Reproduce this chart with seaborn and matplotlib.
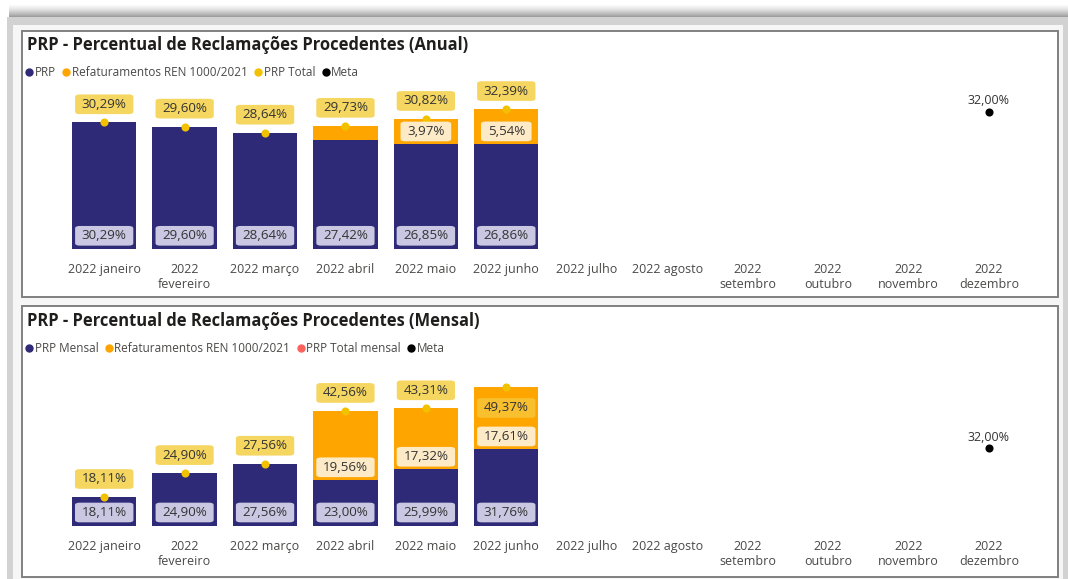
import numpy as np
import pandas as pd
import matplotlib
matplotlib.use("Agg")
import matplotlib.pyplot as plt
import seaborn as sns
from matplotlib.patches import Rectangle
from matplotlib.lines import Line2D

# ---------------- data ----------------
meses = ["2022 janeiro", "2022\nfevereiro", "2022 março", "2022 abril", "2022 maio",
         "2022 junho", "2022 julho", "2022 agosto", "2022\nsetembro", "2022\noutubro",
         "2022\nnovembro", "2022\ndezembro"]
nan = np.nan

# Anual
prp_anual = [30.29, 29.60, 28.64, 27.42, 26.85, 26.86, nan, nan, nan, nan, nan, nan]
refat_anual = [0.0, 0.0, 0.0, 2.31, 3.97, 5.54, nan, nan, nan, nan, nan, nan]
total_anual = [30.29, 29.60, 28.64, 29.73, 30.82, 32.39, nan, nan, nan, nan, nan, nan]
meta_anual = [nan, nan, nan, nan, nan, nan, nan, nan, nan, nan, nan, 32.00]

# Mensal
prp_mensal = [18.11, 24.90, 27.56, 23.00, 25.99, 31.76, nan, nan, nan, nan, nan, nan]
refat_mensal = [0.0, 0.0, 0.0, 19.56, 17.32, 17.61, nan, nan, nan, nan, nan, nan]
total_mensal = [18.11, 24.90, 27.56, 42.56, 43.31, 49.37, nan, nan, nan, nan, nan, nan]
meta_mensal = [nan, nan, nan, nan, nan, nan, nan, nan, nan, nan, nan, 32.00]

titulo_anual = "PRP - Percentual de Reclamações Procedentes (Anual)"
titulo_mensal = "PRP - Percentual de Reclamações Procedentes (Mensal)"
leg_anual = ["PRP", "Refaturamentos REN 1000/2021", "PRP Total", "Meta"]
leg_mensal = ["PRP Mensal", "Refaturamentos REN 1000/2021", "PRP Total mensal", "Meta"]

# ---------------- style ----------------
NAVY = "#2E2A78"
ORANGE = "#FFA500"
DOT = "#F2C200"
RED = "#FD625E"
TXT = "#4A4948"
LBL = "#333333"
W, H = 1068, 579

sns.set_theme(style="white")
plt.rcParams["font.family"] = ["Open Sans", "DejaVu Sans"]

fig = plt.figure(figsize=(W / 100, H / 100), dpi=100, facecolor="white")


def px(x):
    return x / W


def py(y):
    return 1 - y / H


def frect(x0, y0, x1, y1, **kw):
    r = Rectangle((px(x0), py(y1)), px(x1) - px(x0), (y1 - y0) / H,
                  transform=fig.transFigure, **kw)
    fig.add_artist(r)
    return r


# background frame with top shadow
for k in range(14):
    g = 1.0 - 0.38 * (k / 13) ** 1.5
    frect(9, 3 + k, 1068, 4 + k, facecolor=(g, g, g), edgecolor="none", zorder=-5)
frect(7, 17, 1068, 579, facecolor="#D2D2D2", edgecolor="none", zorder=-5)
frect(13, 25, 1063, 579, facecolor="#F6F6F6", edgecolor="none", zorder=-4)
# panels
frect(22, 31, 1058, 297, facecolor="white", edgecolor="#808080", linewidth=1.4, zorder=-3)
frect(22, 306, 1058, 577, facecolor="white", edgecolor="#808080", linewidth=1.4, zorder=-3)


def fmt(v):
    return f"{v:.2f}".replace(".", ",") + "%"


def box(fc, alpha=1.0):
    return dict(boxstyle="round,pad=0.5,rounding_size=0.35", facecolor=fc, edgecolor="none",
                alpha=alpha, mutation_aspect=0.5)


LFS = 9.6


def panel(ax, prp, refat, total, meta, ymin, ymax, titulo, leg_labels, leg_colors,
          title_y, legend_y, inside_total):
    df = pd.DataFrame({"mes": meses, "prp": prp, "refat": refat, "total": total, "meta": meta})
    df["stack"] = df["prp"] + df["refat"]

    sns.barplot(data=df, x="mes", y="stack", order=meses, color=ORANGE, saturation=1,
                width=0.8, errorbar=None, linewidth=0, ax=ax)
    sns.barplot(data=df, x="mes", y="prp", order=meses, color=NAVY, saturation=1,
                width=0.8, errorbar=None, linewidth=0, ax=ax)
    sns.pointplot(data=df, x="mes", y="total", order=meses, color=DOT, markers="o",
                  linestyles="none", errorbar=None, markersize=3.8, ax=ax)
    sns.pointplot(data=df, x="mes", y="meta", order=meses, color="black", markers="o",
                  linestyles="none", errorbar=None, markersize=3.8, ax=ax)

    ax.set_ylim(ymin, ymax)
    ax.set_xlim(-0.5, len(meses) - 0.5)
    ax.set_xlabel("")
    ax.set_ylabel("")
    ax.set_yticks([])
    ax.patch.set_visible(False)
    for s in ax.spines.values():
        s.set_visible(False)
    ax.tick_params(axis="x", length=0, pad=10, labelsize=9, labelcolor=TXT)

    for i in range(len(meses)):
        p, r, t, m = prp[i], refat[i], total[i], meta[i]
        if not np.isnan(p):
            ax.annotate(fmt(p), xy=(i, ymin), xytext=(0, 13.5), textcoords="offset pixels",
                        ha="center", va="center", fontsize=LFS, color=LBL,
                        bbox=box("#C9C7E2"), annotation_clip=False, zorder=5)
        if not np.isnan(r) and r >= 3:
            ax.annotate(fmt(r), xy=(i, p), xytext=(0, 12.5), textcoords="offset pixels",
                        ha="center", va="center", fontsize=LFS, color=LBL,
                        bbox=box("#FDEBC8"), annotation_clip=False, zorder=5)
        if not np.isnan(t):
            if i in inside_total:
                ax.annotate(fmt(t), xy=(i, t), xytext=(0, -21), textcoords="offset pixels",
                            ha="center", va="center", fontsize=LFS, color=LBL,
                            bbox=box("#F4D250", 0.6), annotation_clip=False, zorder=5)
            else:
                ax.annotate(fmt(t), xy=(i, t), xytext=(0, 18), textcoords="offset pixels",
                            ha="center", va="center", fontsize=LFS, color=LBL,
                            bbox=box("#F4D660"), annotation_clip=False, zorder=5)
        if not np.isnan(m):
            ax.annotate(fmt(m), xy=(i, m), xytext=(0, 11), textcoords="offset pixels",
                        ha="center", va="center", fontsize=9, color=LBL,
                        annotation_clip=False, zorder=5)

    fig.text(px(27), py(title_y), titulo, fontsize=11.9, fontweight="bold",
             color="#1F1E1D", ha="left", va="center")
    handles = [Line2D([], [], marker="o", linestyle="none", markersize=5, color=c)
               for c in leg_colors]
    ax.legend(handles, leg_labels, loc="center left", bbox_to_anchor=(px(24), py(legend_y)),
              bbox_transform=fig.transFigure, ncol=4, frameon=False, handletextpad=0.0,
              columnspacing=0.45, handlelength=0.9, fontsize=8.5, labelcolor=TXT,
              borderaxespad=0, borderpad=0)


ax_left, ax_right = 64, 1029

# top (Anual): base y=249.3 px, 6.3 px per unit, min 10.13
top_base, top_top = 249.3, 85
ymin_a = 10.13
ymax_a = ymin_a + (top_base - top_top) / 6.3
ax1 = fig.add_axes([px(ax_left), py(top_base), px(ax_right) - px(ax_left), (top_base - top_top) / H])
panel(ax1, prp_anual, refat_anual, total_anual, meta_anual, ymin_a, ymax_a, titulo_anual,
      leg_anual, [NAVY, ORANGE, DOT, "black"], 45, 73, [])

# bottom (Mensal): base y=526 px, 3.52 px per unit, min 9.87
bot_base, bot_top = 526, 365
ymin_m = 9.87
ymax_m = ymin_m + (bot_base - bot_top) / 3.52
ax2 = fig.add_axes([px(ax_left), py(bot_base), px(ax_right) - px(ax_left), (bot_base - bot_top) / H])
panel(ax2, prp_mensal, refat_mensal, total_mensal, meta_mensal, ymin_m, ymax_m, titulo_mensal,
      leg_mensal, [NAVY, ORANGE, RED, "black"], 321, 349, [5])

fig.savefig("out.png", dpi=100, facecolor="white")
